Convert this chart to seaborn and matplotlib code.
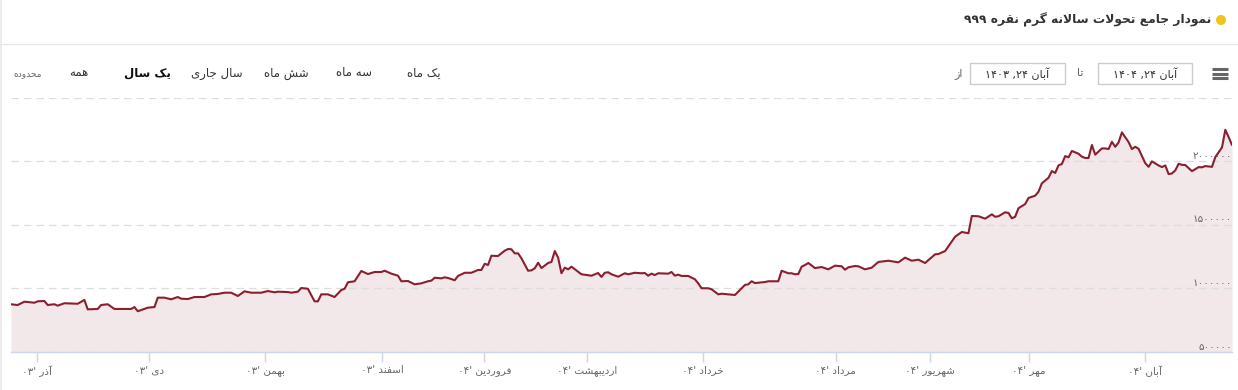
import re
import matplotlib
matplotlib.use("Agg")
import matplotlib.pyplot as plt
from matplotlib.patches import Rectangle, Ellipse
from matplotlib.lines import Line2D
import pandas as pd
import seaborn as sns

# ---------------- data ----------------
title_text = "نمودار جامع تحولات سالانه گرم نقره ۹۹۹"
range_label = "محدوده"
range_buttons = ["یک ماه", "سه ماه", "شش ماه", "سال جاری", "یک سال", "همه"]
selected_button = "یک سال"
date_from_label = "از"
date_to_label = "تا"
date_from = "آبان ۲۴, ۱۴۰۳"
date_to = "آبان ۲۴, ۱۴۰۴"

# trading-day index (ordinal axis) and price (rial per gram)
day = [0, 2, 4, 5, 7, 8, 10, 11, 13, 14, 16, 20, 22, 23, 26, 27, 29, 31, 36, 37,
       38, 41, 43, 44, 46, 48, 50, 51, 53, 55, 58, 60, 62, 64, 66, 68, 70, 72, 75, 77,
       79, 80, 83, 84, 86, 87, 89, 91, 92, 93, 95, 97, 99, 100, 101, 103, 105, 107, 109, 111,
       112, 114, 116, 117, 119, 121, 123, 125, 126, 127, 129, 130, 131, 133, 134, 136, 138, 140, 141, 142,
       143, 144, 146, 148, 149, 150, 151, 152, 153, 155, 156, 157, 158, 159, 161, 162, 163, 164, 165, 166,
       167, 168, 171, 174, 176, 177, 178, 179, 180, 182, 184, 185, 187, 189, 190, 191, 192, 193, 194, 197,
       198, 199, 200, 201, 203, 205, 206, 207, 209, 210, 212, 213, 217, 220, 221, 222, 223, 226, 227, 230,
       231, 233, 234, 235, 236, 237, 238, 239, 241, 243, 245, 247, 249, 250, 251, 253, 254, 256, 258, 260,
       263, 266, 268, 270, 272, 274, 277, 278, 280, 283, 285, 287, 288, 290, 292, 294, 295, 296, 298, 299,
       300, 301, 302, 304, 305, 307, 308, 309, 311, 312, 313, 314, 315, 316, 317, 318, 320, 321, 322, 323,
       324, 325, 327, 328, 329, 330, 331, 332, 333, 335, 336, 337, 338, 340, 341, 342, 344, 345, 346, 347,
       348, 349, 350, 351, 352, 354, 356, 357, 358, 360, 361, 363, 364, 365, 366]
price = [872000, 866000, 892000, 890000, 884000, 895000, 898000, 866000, 872000, 861000,
         880000, 876000, 906000, 832000, 835000, 866000, 872000, 835000, 835000, 850000,
         817000, 845000, 850000, 924000, 924000, 911000, 929000, 916000, 913000, 929000,
         929000, 950000, 953000, 963000, 963000, 937000, 974000, 963000, 963000, 976000,
         966000, 971000, 968000, 963000, 971000, 1000000, 994000, 895000, 895000, 950000,
         950000, 929000, 984000, 994000, 1045000, 1053000, 1134000, 1110000, 1126000, 1126000,
         1136000, 1113000, 1097000, 1053000, 1055000, 1029000, 1037000, 1053000, 1058000, 1081000,
         1076000, 1084000, 1079000, 1061000, 1095000, 1120000, 1120000, 1142000, 1142000, 1191000,
         1181000, 1254000, 1252000, 1294000, 1307000, 1305000, 1273000, 1273000, 1234000, 1136000,
         1139000, 1155000, 1199000, 1157000, 1197000, 1205000, 1291000, 1239000, 1116000, 1160000,
         1147000, 1168000, 1108000, 1097000, 1118000, 1087000, 1120000, 1124000, 1108000, 1089000,
         1116000, 1108000, 1120000, 1116000, 1118000, 1097000, 1113000, 1102000, 1116000, 1113000,
         1126000, 1097000, 1105000, 1095000, 1095000, 1069000, 1037000, 998000, 998000, 990000,
         950000, 955000, 945000, 1024000, 1029000, 1053000, 1039000, 1047000, 1053000, 1053000,
         1136000, 1116000, 1116000, 1108000, 1110000, 1168000, 1181000, 1197000, 1157000, 1165000,
         1147000, 1176000, 1171000, 1144000, 1163000, 1173000, 1171000, 1147000, 1160000, 1205000,
         1215000, 1202000, 1239000, 1215000, 1223000, 1197000, 1265000, 1268000, 1291000, 1404000,
         1441000, 1431000, 1567000, 1565000, 1546000, 1580000, 1561000, 1565000, 1596000, 1591000,
         1549000, 1561000, 1628000, 1661000, 1709000, 1727000, 1758000, 1824000, 1868000, 1921000,
         1906000, 1966000, 1976000, 2039000, 2029000, 2079000, 2057000, 2034000, 2024000, 2024000,
         2126000, 2050000, 2099000, 2099000, 2094000, 2151000, 2112000, 2146000, 2225000, 2149000,
         2094000, 2112000, 2096000, 1983000, 1954000, 1997000, 1965000, 1952000, 1965000, 1897000,
         1902000, 1926000, 1978000, 1970000, 1968000, 1920000, 1952000, 1950000, 1960000, 1954000,
         2031000, 2107000, 2246000, 2188000, 2126000]

month_ticks = [7.8, 41.4, 76.2, 111.3, 141.9, 172.8, 207.3, 247.2, 275.4, 305.1, 339.9]
month_labels = ["آذر '۰۳", "دی '۰۳", "بهمن '۰۳", "اسفند '۰۳", "فروردین '۰۴",
                "اردیبهشت '۰۴", "خرداد '۰۴", "مرداد '۰۴", "شهریور '۰۴", "مهر '۰۴", "آبان '۰۴"]
y_ticks = [500000, 1000000, 1500000, 2000000, 2500000]
y_labels = ["۵۰۰۰۰۰", "۱۰۰۰۰۰۰", "۱۵۰۰۰۰۰", "۲۰۰۰۰۰۰", ""]

assert len(day) == len(price)

# ------------- Persian shaping (presentation forms + visual order) -------------
_DUAL = {'ب': 0xFE8F, 'ت': 0xFE95, 'ث': 0xFE99, 'ج': 0xFE9D, 'ح': 0xFEA1, 'خ': 0xFEA5,
         'س': 0xFEB1, 'ش': 0xFEB5, 'ص': 0xFEB9, 'ض': 0xFEBD, 'ط': 0xFEC1, 'ظ': 0xFEC5,
         'ع': 0xFEC9, 'غ': 0xFECD, 'ف': 0xFED1, 'ق': 0xFED5, 'ل': 0xFEDD, 'م': 0xFEE1,
         'ن': 0xFEE5, 'ه': 0xFEE9, 'پ': 0xFB56, 'چ': 0xFB7A, 'ک': 0xFB8E, 'گ': 0xFB92,
         'ی': 0xFBFC}
_RIGHT = {'ا': 0xFE8D, 'آ': 0xFE81, 'د': 0xFEA9, 'ذ': 0xFEAB, 'ر': 0xFEAD, 'ز': 0xFEAF,
          'ژ': 0xFB8A, 'و': 0xFEED}


def _shape(s):
    out = []
    i, n = 0, len(s)
    while i < n:
        c = s[i]
        prev = s[i - 1] if i > 0 else ''
        jp = prev in _DUAL
        if c == 'ل' and i + 1 < n and s[i + 1] in ('ا', 'آ'):
            if s[i + 1] == 'ا':
                out.append(chr(0xFEFC if jp else 0xFEFB))
            else:
                out.append(chr(0xFEF6 if jp else 0xFEF5))
            i += 2
            continue
        nxt = s[i + 1] if i + 1 < n else ''
        if c in _DUAL:
            b = _DUAL[c]
            jn = nxt in _DUAL or nxt in _RIGHT
            if jp and jn:
                out.append(chr(b + 3))
            elif jp:
                out.append(chr(b + 1))
            elif jn:
                out.append(chr(b + 2))
            else:
                out.append(chr(b))
        elif c in _RIGHT:
            b = _RIGHT[c]
            out.append(chr(b + 1 if jp else b))
        else:
            out.append(c)
        i += 1
    return ''.join(out)


def rtl(s):
    sh = _shape(s)
    toks = re.findall(r'[0-9۰-۹]+|[^0-9۰-۹]+', sh)
    return ''.join(t if re.match(r'[0-9۰-۹]', t) else t[::-1] for t in reversed(toks))


# ---------------- style ----------------
sns.set_style("white")
plt.rcParams['font.family'] = ['DejaVu Sans']

W, H = 1238, 390
LINE = '#8a1f2f'
FILL = '#f2e7e9'


def fx(x):
    return x / W


def fy(y):
    return 1 - y / H


fig = plt.figure(figsize=(W / 100, H / 100), dpi=100)
fig.patch.set_facecolor('white')

ax = fig.add_axes([fx(11), fy(351.5), (1232 - 11) / W, (351.5 - 97.5) / H])
ax.set_axisbelow(False)
df = pd.DataFrame({'day': day, 'price': price})
ax.fill_between(df['day'], df['price'], 0, color=FILL, lw=0, zorder=1)
sns.lineplot(data=df, x='day', y='price', ax=ax, color=LINE, lw=1.5, zorder=3)
ax.set_xlim(0, 366)
ax.set_ylim(500000, 2500000)
ax.set_xlabel('')
ax.set_ylabel('')

ax.set_yticks(y_ticks)
ax.yaxis.tick_right()
ax.set_yticklabels(y_labels)
ax.tick_params(axis='y', length=0, pad=0, labelsize=7.5, labelcolor='#666666')
for t in ax.get_yticklabels():
    t.set_ha('right')
    t.set_va('bottom')

ax.set_xticks(month_ticks)
ax.set_xticklabels([rtl(l) for l in month_labels])
ax.tick_params(axis='x', length=7, width=1, color='#ccd6eb', labelsize=7.5,
               labelcolor='#666666', pad=3, bottom=True)

ax.grid(axis='y', color='#dddddd', linestyle=(0, (6, 4)), lw=0.9)
ax.grid(axis='x', visible=False)
for s in ['top', 'left', 'right']:
    ax.spines[s].set_visible(False)
ax.spines['bottom'].set_color('#ccd6eb')
ax.spines['bottom'].set_linewidth(1)
ax.set_facecolor('none')

# ---------------- header ----------------
fig.add_artist(Line2D([0, 1], [fy(44), fy(44)], transform=fig.transFigure, color='#e6e6e6', lw=1))
fig.add_artist(Line2D([fx(0.8), fx(0.8)], [0, 1], transform=fig.transFigure, color='#e8e8e8', lw=1.2))
fig.add_artist(Ellipse((fx(1221), fy(20)), 10 / W, 10 / H, transform=fig.transFigure,
                       color='#f0c419', lw=0))
fig.text(fx(1211), fy(20), rtl(title_text), ha='right', va='center', fontsize=8.8,
         fontweight='bold', color='#333333')

# range selector
btn_x = [424, 354, 286, 217, 147, 79]
for label, x in zip(range_buttons, btn_x):
    bold = label == selected_button
    fig.text(fx(x), fy(73), rtl(label), ha='center', va='center', fontsize=8.5,
             fontweight='bold' if bold else 'normal', color='#111111' if bold else '#333333')
fig.text(fx(28), fy(74), rtl(range_label), ha='center', va='center', fontsize=6.5, color='#666666')

# date inputs
for (x0, x1), txt in [((1098, 1192), date_to), ((970, 1065), date_from)]:
    fig.add_artist(Rectangle((fx(x0), fy(84)), (x1 - x0) / W, 21 / H, transform=fig.transFigure,
                             facecolor='white', edgecolor='#cccccc', lw=1))
    fig.text(fx((x0 + x1) / 2), fy(73.5), rtl(txt), ha='center', va='center', fontsize=8,
             color='#333333')
fig.text(fx(1080), fy(73.5), rtl(date_to_label), ha='center', va='center', fontsize=8, color='#666666')
fig.text(fx(959), fy(73.5), rtl(date_from_label), ha='center', va='center', fontsize=8, color='#666666')

# menu icon
for yy in (69, 73.5, 78):
    fig.add_artist(Line2D([fx(1212), fx(1228)], [fy(yy), fy(yy)], transform=fig.transFigure,
                          color='#666666', lw=2.2, solid_capstyle='butt'))

fig.savefig('out.png', dpi=100, facecolor='white')
